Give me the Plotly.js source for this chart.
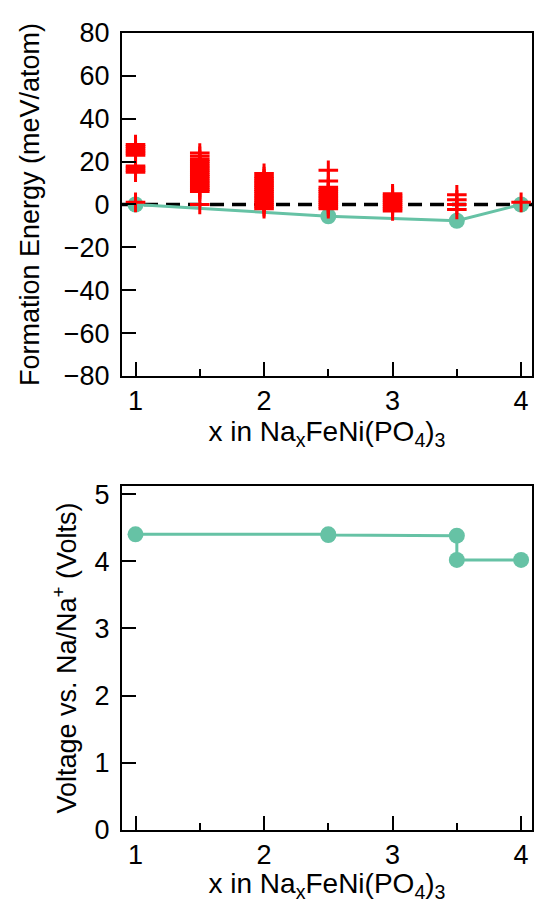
<!DOCTYPE html>
<html>
<head>
<meta charset="utf-8">
<script src="https://cdn.plot.ly/plotly-3.0.1.min.js"></script>
<style>html,body{margin:0;padding:0;background:#fff;}</style>
</head>
<body>
<div id="chart" style="width:534px;height:903px;"></div>
<script>
// Candidate structures: composition x and formation energies (meV/atom)
const compositions = [1, 1.5, 2, 2.5, 3, 3.5, 4];
const energies_x1   = [28, 27, 26, 25, 24, 23, 18, 17, 16, 15, 1];
const energies_x15  = [24, 22.5, 21, 20, 19, 18, 17, 16, 15, 14, 13, 12, 11, 10, 9, 8, 7, 6, 0];
const energies_x2   = [14.5, 13, 12, 11, 10, 9, 8, 7, 6, 5, 4, 3, 2, 1, 0, -1, -2];
const energies_x25  = [16, 11, 8, 7, 6, 5, 4, 3, 2, 1, 0, -1, -2];
const energies_x3   = [5, 4, 3, 2, 1, 0, -1, -2, -3];
const energies_x35  = [4.5, 2.2, 0, -2.3];
const energies_x4   = [1];
const energiesByX = [energies_x1, energies_x15, energies_x2, energies_x25, energies_x3, energies_x35, energies_x4];

// Convex hull
const hullX = [1, 2.5, 3.5, 4];
const hullE = [0, -5.5, -7.6, 0];

// Voltage profile
const voltX = [1, 2.5, 2.5, 3.5, 3.5, 4];
const voltY = [4.40, 4.40, 4.39, 4.38, 4.02, 4.02];

const candX = [], candE = [];
compositions.forEach((c, i) => energiesByX[i].forEach(e => { candX.push(c); candE.push(e); }));

const TEAL = '#66c2a5';
const FONT = 'Liberation Sans, Arial, Helvetica, sans-serif';
const FS = 27;
const xTitle = 'x in Na<sub>x</sub>FeNi(PO<sub>4</sub>)<sub>3</sub>';

const traces = [
  {x: hullX, y: hullE, xaxis: 'x', yaxis: 'y', mode: 'lines+markers', type: 'scatter',
   line: {color: TEAL, width: 3}, marker: {color: TEAL, size: 16}, cliponaxis: false},
  {x: candX, y: candE, xaxis: 'x', yaxis: 'y', mode: 'markers', type: 'scatter',
   marker: {symbol: 'cross-thin', size: 14, color: 'red', line: {color: 'red', width: 3}}, cliponaxis: false},
  {x: voltX, y: voltY, xaxis: 'x2', yaxis: 'y2', mode: 'lines+markers', type: 'scatter',
   line: {color: TEAL, width: 3}, marker: {color: TEAL, size: 16}, cliponaxis: false}
];

function xax(anchor) {
  return {
    anchor: anchor, domain: [0.2285, 0.9963], range: [0.895, 4.085],
    tick0: 1, dtick: 1, ticks: 'inside', ticklen: 14, tickwidth: 2, tickcolor: '#000',
    minor: {dtick: 0.5, tick0: 1, ticks: 'inside', ticklen: 7, tickwidth: 2, tickcolor: '#000', showgrid: false},
    showline: true, linewidth: 2, linecolor: '#000', mirror: true,
    showgrid: false, zeroline: false,
    tickfont: {family: FONT, size: FS, color: '#000'},
    ticklabelstandoff: 0,
    title: {text: xTitle, font: {family: FONT, size: 28, color: '#000'}, standoff: 4}
  };
}

const layout = {
  width: 534, height: 903,
  margin: {l: 0, r: 0, t: 0, b: 0},
  paper_bgcolor: '#fff', plot_bgcolor: '#fff',
  showlegend: false,
  font: {family: FONT, size: FS, color: '#000'},
  xaxis: xax('y'),
  xaxis2: xax('y2'),
  yaxis: {
    anchor: 'x', domain: [0.5836, 0.9635], range: [-80, 80], tick0: -80, dtick: 20,
    ticks: 'inside', ticklen: 14, tickwidth: 2, tickcolor: '#000',
    showline: true, linewidth: 2, linecolor: '#000', mirror: true,
    showgrid: false, zeroline: false,
    tickfont: {family: FONT, size: FS, color: '#000'},
    ticklabelstandoff: 5,
    title: {text: 'Formation Energy (meV/atom)', font: {family: FONT, size: FS, color: '#000'}, standoff: 16}
  },
  yaxis2: {
    anchor: 'x2', domain: [0.0808, 0.4618], range: [0, 5.12], tick0: 0, dtick: 1,
    ticks: 'inside', ticklen: 14, tickwidth: 2, tickcolor: '#000',
    showline: true, linewidth: 2, linecolor: '#000', mirror: true,
    showgrid: false, zeroline: false,
    tickfont: {family: FONT, size: FS, color: '#000'},
    ticklabelstandoff: 5,
    title: {text: 'Voltage vs. Na/Na<sup>+</sup> (Volts)', font: {family: FONT, size: FS, color: '#000'}, standoff: 10}
  },
  shapes: [{
    type: 'line', xref: 'x domain', yref: 'y', x0: 0, x1: 1, y0: 0, y1: 0,
    line: {color: '#000', width: 3.5, dash: '14px,8px'}, layer: 'below'
  }]
};

Plotly.newPlot('chart', traces, layout, {displayModeBar: false, staticPlot: true});
</script>
</body>
</html>
